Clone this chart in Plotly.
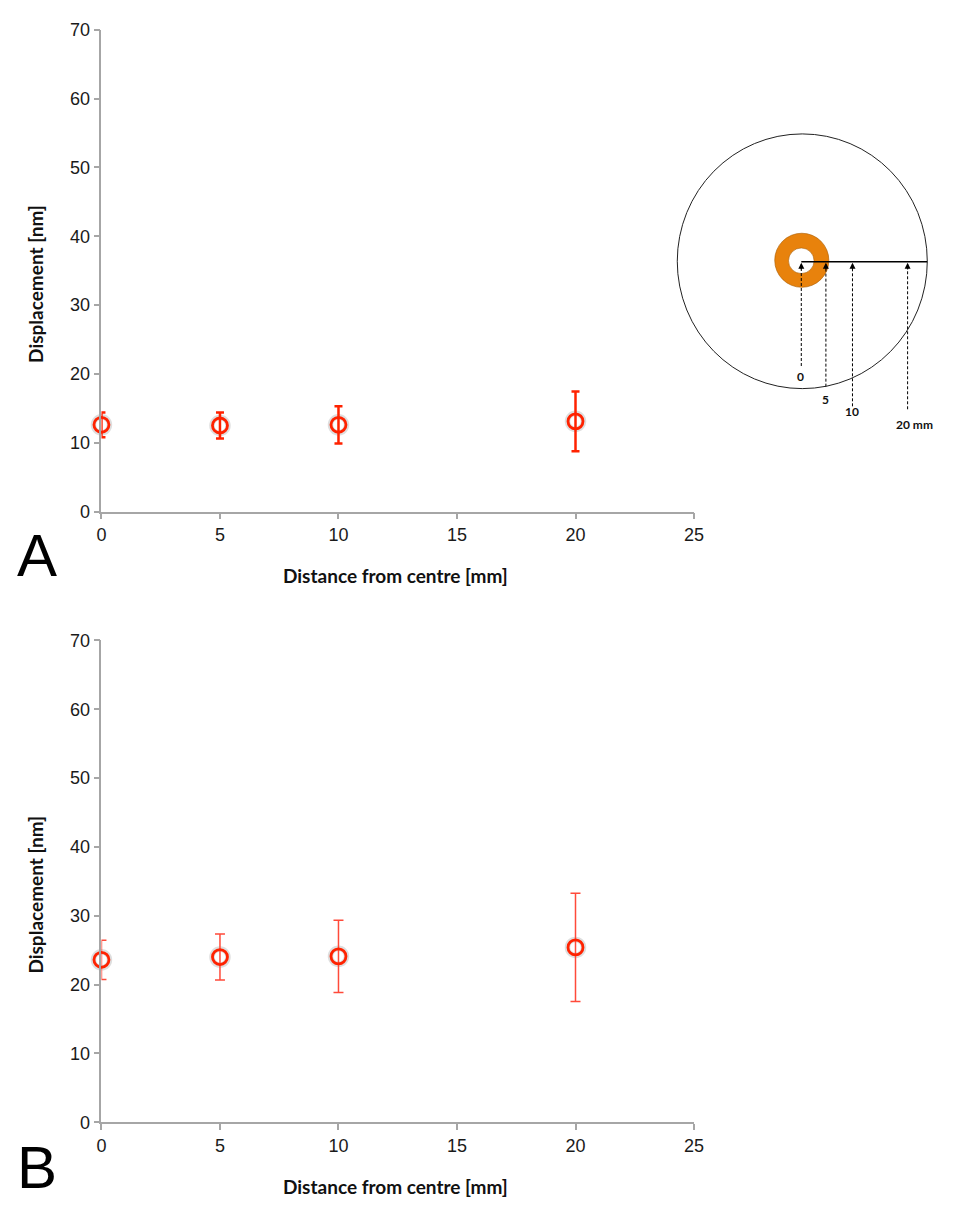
import plotly.graph_objects as go

W, H = 955, 1207

# ---- data ----
distance_mm = [0, 5, 10, 20]
disp_A = [12.6, 12.5, 12.6, 13.1]
err_A = [1.8, 1.9, 2.7, 4.35]
disp_B = [23.6, 24.0, 24.1, 25.4]
err_B = [2.85, 3.35, 5.25, 7.85]
x_ticks = [0, 5, 10, 15, 20, 25]
y_ticks = [0, 10, 20, 30, 40, 50, 60, 70]
diagram_labels = ["0", "5", "10", "20 mm"]

RED = "#ff2200"
AXC = "#a6a6a6"
SHADOW = "rgba(0,0,0,0.13)"


def px(x):
    return x / W


def py(y):
    return 1 - y / H


fig = go.Figure()

for xa, ya, vals, errs, ecol, eth, ew in [("x", "y", disp_A, err_A, RED, 2.5, 4),
                                          ("x2", "y2", disp_B, err_B, "#ff4a3a", 1.5, 5)]:
    fig.add_trace(go.Scatter(x=distance_mm, y=vals, mode="markers", xaxis=xa, yaxis=ya,
                             marker=dict(symbol="circle-open", size=16, color=SHADOW,
                                         line=dict(width=5.5, color=SHADOW)),
                             hoverinfo="skip", showlegend=False, cliponaxis=False))
    fig.add_trace(go.Scatter(x=distance_mm, y=vals, mode="markers", xaxis=xa, yaxis=ya,
                             marker=dict(symbol="circle-open", size=15, color=RED,
                                         line=dict(width=2.8, color=RED)),
                             error_y=dict(type="data", array=errs, color=ecol, thickness=eth, width=ew),
                             showlegend=False, cliponaxis=False))

tickfont = dict(family="Liberation Sans, Arial, sans-serif", size=18, color="#1a1a1a")
xax = dict(range=[0, 25], tickvals=x_ticks, showline=True, linecolor=AXC, linewidth=1.5,
           ticks="outside", ticklen=6, tickcolor=AXC, tickwidth=1.5, showgrid=False,
           zeroline=False, tickfont=tickfont, fixedrange=True)
yax = dict(range=[0, 70], tickvals=y_ticks, showline=True, linecolor=AXC, linewidth=1.5,
           ticks="outside", ticklen=6, tickcolor=AXC, tickwidth=1.5, showgrid=False,
           zeroline=False, tickfont=tickfont, fixedrange=True)

xdom = [px(98), px(700)]
fig.update_layout(
    width=W, height=H,
    margin=dict(l=0, r=0, t=0, b=0),
    paper_bgcolor="white", plot_bgcolor="white",
    xaxis=dict(**xax, domain=xdom, anchor="y"),
    yaxis=dict(**yax, domain=[py(510), py(20)], anchor="x"),
    xaxis2=dict(**xax, domain=xdom, anchor="y2"),
    yaxis2=dict(**yax, domain=[py(1131), py(641)], anchor="x2"),
)

titlefont = dict(family="Lato, Open Sans, sans-serif", size=19, color="#111", weight="bold")
ann = []
for ytop, ybot, ylet in [(20, 510, 555), (641, 1131, 1177)]:
    ann.append(dict(text="<b>Displacement [nm]</b>", x=px(31), y=py((ytop + ybot) / 2 + 14),
                    xref="paper", yref="paper", textangle=-90, showarrow=False,
                    font=titlefont, xanchor="center", yanchor="middle"))
    ann.append(dict(text="<b>Distance from centre [mm]</b>", x=px(397), y=py(ybot + 65),
                    xref="paper", yref="paper", showarrow=False,
                    font=titlefont, xanchor="center", yanchor="middle"))
    ann.append(dict(text="A" if ytop == 20 else "B", x=px(33), y=py(ylet),
                    xref="paper", yref="paper", showarrow=False,
                    font=dict(family="Liberation Sans, Arial, sans-serif", size=60, color="black"),
                    xanchor="center", yanchor="middle"))

# ---- inset diagram (illustration) ----
shapes = []
shapes.append(dict(type="circle", xref="paper", yref="paper",
                   x0=px(683), x1=px(937), y0=py(385), y1=py(126),
                   line=dict(color="#222", width=1), fillcolor="white", layer="above"))
shapes.append(dict(type="circle", xref="paper", yref="paper",
                   x0=px(782), x1=px(837), y0=py(282), y1=py(227),
                   line=dict(color="#a85a00", width=0.6), fillcolor="#e8820c", layer="above"))
shapes.append(dict(type="circle", xref="paper", yref="paper",
                   x0=px(796), x1=px(822), y0=py(268), y1=py(242),
                   line=dict(color="#a85a00", width=0.6), fillcolor="white", layer="above"))
shapes.append(dict(type="line", xref="paper", yref="paper",
                   x0=px(809), x1=px(937), y0=py(256), y1=py(256),
                   line=dict(color="black", width=1.5), layer="above"))

arrow_x = [809, 834, 861, 917]
arrow_bottom = [362, 383, 403, 406]
label_pos = [(808, 373), (834, 396), (861, 408), (924, 421)]
for xa, yb, lab, (lx, ly) in zip(arrow_x, arrow_bottom, diagram_labels, label_pos):
    shapes.append(dict(type="line", xref="paper", yref="paper",
                       x0=px(xa), x1=px(xa), y0=py(yb), y1=py(262),
                       line=dict(color="black", width=1, dash="3px,2px"), layer="above"))
    ann.append(dict(x=px(xa), y=py(257), xref="paper", yref="paper", ax=0, ay=8,
                    axref="pixel", ayref="pixel", showarrow=True, arrowhead=2,
                    arrowsize=1, arrowwidth=1.2, arrowcolor="black", text=""))
    ann.append(dict(text="<b>" + lab + "</b>", x=px(lx), y=py(ly), xref="paper", yref="paper",
                    showarrow=False, xanchor="center", yanchor="middle",
                    font=dict(family="Lato, Open Sans, sans-serif", size=12, color="#111")))

fig.update_layout(annotations=ann, shapes=shapes)
fig.write_html("out.html")
